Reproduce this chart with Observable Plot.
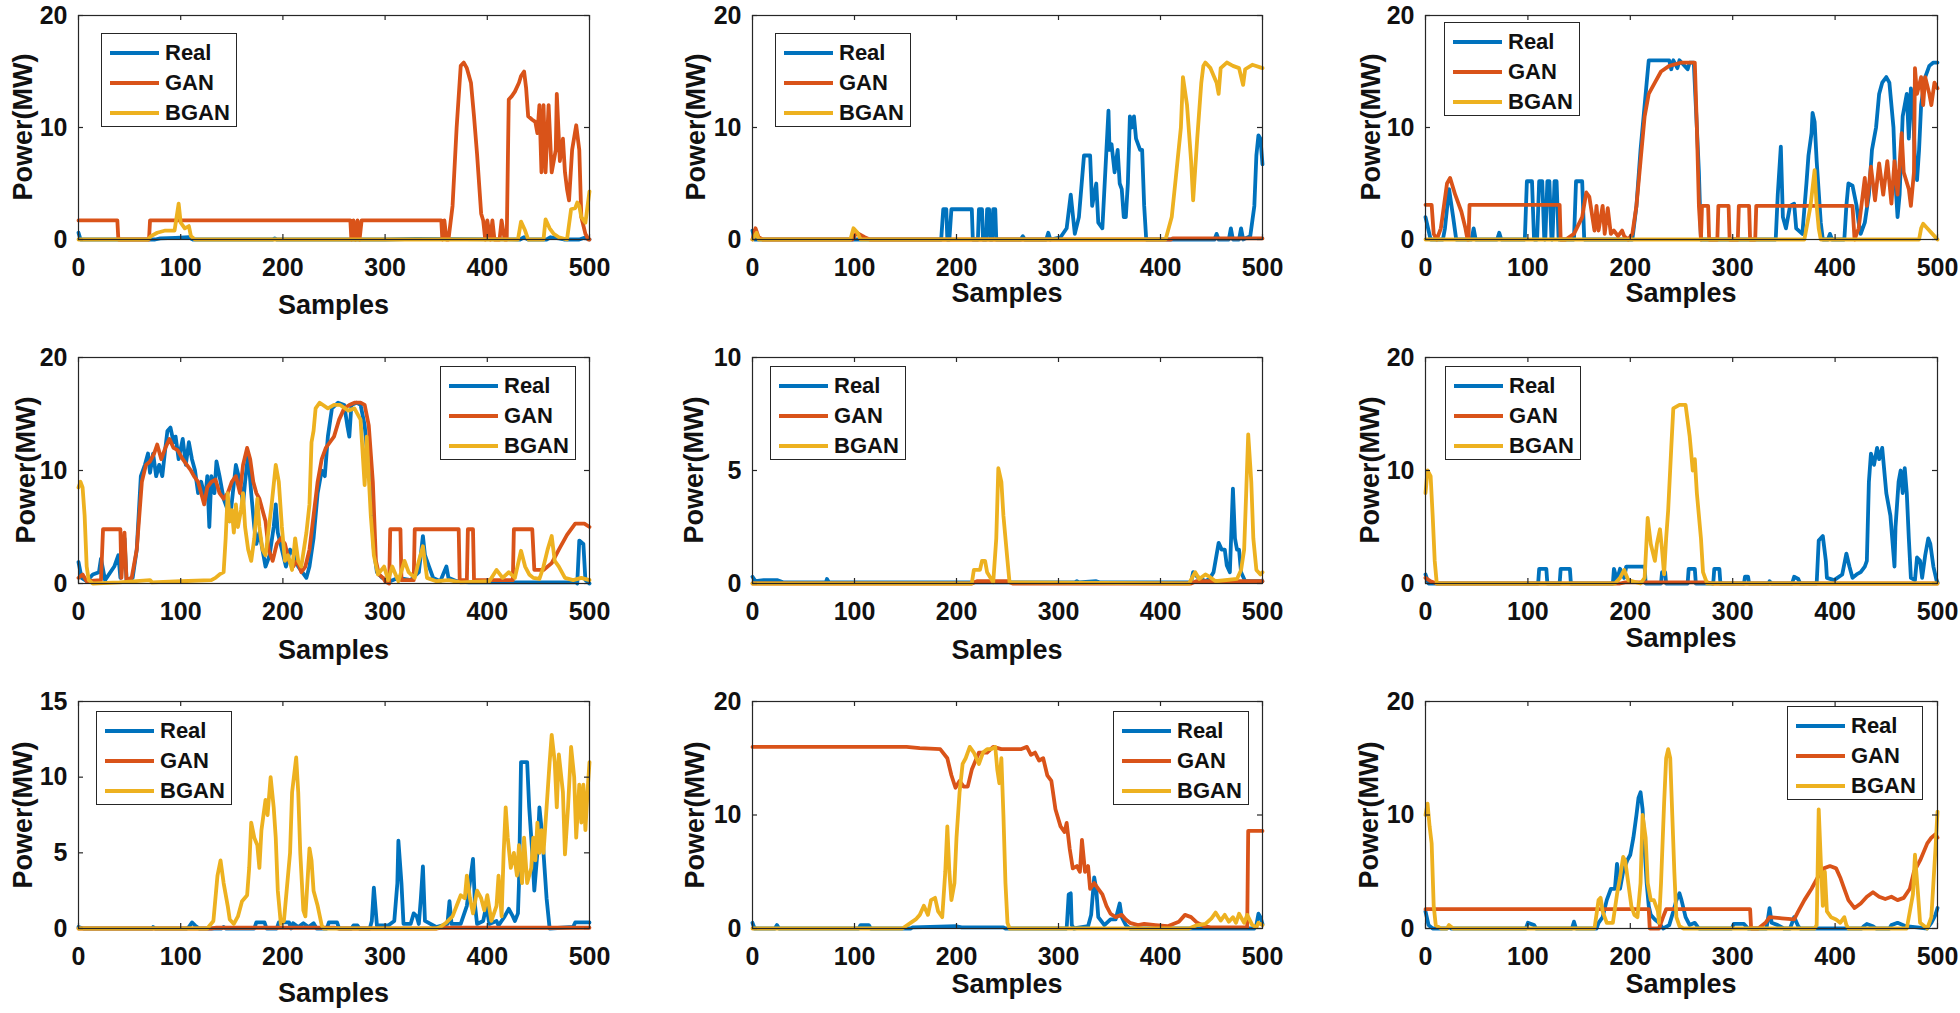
<!DOCTYPE html>
<html><head><meta charset="utf-8">
<script src="https://cdn.jsdelivr.net/npm/d3@7"></script>
<script src="https://cdn.jsdelivr.net/npm/@observablehq/plot@0.6"></script>
<style>
body{margin:0;background:#fff;}
#root{position:relative;width:1960px;height:1013px;overflow:hidden;font-family:"Liberation Sans",Arial,sans-serif;font-weight:bold;color:#111;background:#fff;}
.panel{position:absolute;}
.panel svg{overflow:visible;max-width:none;}
.lab{position:absolute;font-size:27px;font-weight:bold;white-space:nowrap;line-height:30px;}
.legend{position:absolute;border:1px solid #262626;background:#fff;box-sizing:border-box;width:136px;height:94px;}
.sw{position:absolute;left:8px;width:49px;height:4px;}
.lt{position:absolute;left:63px;font-size:22px;line-height:26px;font-weight:bold;}
</style></head>
<body><div id="root"></div>
<script>
// ---- series meta ----
const seriesNames = ["Real","GAN","BGAN"];
const seriesColors = ["#0072BD","#D95319","#EDB120"];
const xTicks = [0,100,200,300,400,500];
const yMaxes = [20,20,20,20,10,20,15,20,20];
const yTicksList = [[0,10,20],[0,10,20],[0,10,20],[0,10,20],[0,5,10],[0,10,20],[0,5,10,15],[0,10,20],[0,10,20]];
const xLabel = "Samples";
const yLabel = "Power(MW)";

// ---- panel 1 ----
const p1Real = [[0,0.6],[2,0],[75,0],[80,0.1],[95,0.15],[108,0.2],[112,0],[190,0],[192,0.1],[194,0],[300,0],[330,0.05],[432,0],[436,0.2],[440,0],[458,0],[462,0.2],[470,0.1],[475,0],[490,0],[495,0.15],[500,0]];
const p1Gan = [[0,1.7],[38,1.7],[39,0],[69,0],[70,1.7],[266,1.7],[267,0],[269,1.7],[271,0],[273,1.7],[275,0],[277,1.7],[355,1.7],[356,0],[358,1.7],[360,0],[362,0],[366,3],[370,10],[374,15.5],[377,15.8],[380,15.3],[384,14],[387,11],[390,7.6],[394,2.3],[396,1.7],[398,0],[400,1.7],[403,0],[405,1.7],[407,0],[412,0],[414,1.7],[417,0],[419,0],[421,12.5],[424,12.8],[427,13.2],[431,14],[433,14.6],[436,15],[438,13.5],[440,11],[444,10.7],[447,10.5],[449,9.5],[451,12],[453,6],[455,12],[457,6],[460,12],[463,6],[465,7],[467,8],[468,13],[471,7],[474,9],[476,6],[478,4.5],[480,3.5],[483,8],[487,10.2],[490,8],[492,2],[496,0.5],[499,0],[500,0]];
const p1Bgan = [[0,0],[68,0],[71,0.3],[77,0.6],[85,0.8],[94,0.8],[98,3.2],[100,1.5],[104,1.0],[108,1.2],[110,0.3],[114,0],[430,0],[433,1.6],[437,0.8],[440,0],[455,0],[457,1.8],[461,1.0],[465,0.5],[470,0.2],[478,0],[482,2.7],[486,2.8],[488,3.3],[490,3.0],[492,2.0],[496,1.5],[500,4.3]];

// ---- panel 2 ----
const p2Real = [[0,0.8],[2,0],[185,0],[187,2.7],[190,2.7],[191,0],[193,0],[195,2.7],[215,2.7],[216,0],[221,0],[222,2.7],[225,2.7],[226,0],[229,0],[230,2.7],[232,2.7],[233,0],[235,0],[236,2.7],[238,2.7],[239,0],[263,0],[265,0.3],[267,0],[288,0],[290,0.6],[292,0],[302,0.2],[308,1.0],[312,4.0],[316,0.5],[320,2],[325,7.5],[331,7.5],[333,3.0],[337,5],[339,1.5],[343,1.0],[347,8],[349,11.5],[350,8],[352,8.5],[355,6],[358,8],[360,5],[362,4.5],[364,2],[366,2],[368,5],[370,11],[372,10],[374,11],[376,9],[380,8],[382,8],[384,3],[386,0],[453,0],[455,0.5],[457,0],[467,0],[469,1.0],[471,0],[477,0],[479,1.0],[481,0],[488,0.3],[492,3],[494,7.5],[496,9.3],[498,9],[500,6.7]];
const p2Gan = [[0,0],[3,1.0],[6,0.2],[10,0],[98,0],[102,0.6],[110,0.2],[115,0],[410,0],[412,0.1],[500,0.1]];
const p2Bgan = [[0,0],[4,0.6],[6,0],[96,0],[99,1.0],[103,0.6],[106,0],[405,0],[411,2],[415,5.5],[420,10],[422,14.5],[426,12],[430,7],[432,3.5],[436,9],[440,14],[442,15.5],[444,15.8],[449,15.3],[455,14],[457,13],[459,15.3],[465,15.8],[471,15.5],[477,15.3],[481,13.8],[483,15.2],[490,15.6],[500,15.3]];

// ---- panel 3 ----
const p3Real = [[0,2],[5,0],[17,0],[19,1],[23,4.5],[27,2],[30,0],[45,0],[47,1.0],[49,0],[70,0],[72,0.6],[74,0],[97,0],[99,5.2],[104,5.2],[106,0],[109,0],[111,5.2],[114,5.2],[116,0],[117,0],[119,5.2],[121,5.2],[123,0],[124,0],[126,5.2],[128,5.2],[130,0],[145,0],[147,5.2],[153,5.2],[155,0],[202,0],[206,3],[210,8],[214,12],[216,14],[218,16],[238,16],[240,15.2],[242,16],[246,15.3],[248,16],[256,15.2],[258,15.8],[262,15.8],[265,10],[267,6],[269,0],[342,0],[344,4],[347,8.3],[349,2],[352,1],[356,3],[360,3.2],[362,1],[368,0.5],[372,5],[374,7.5],[377,9.5],[378,11.3],[380,10.5],[382,7],[386,1.5],[388,0],[393,0],[395,0.5],[397,0],[409,0],[411,3],[413,5],[417,4.8],[421,3],[423,1.5],[425,0.5],[429,1.5],[433,4],[436,8],[440,10],[443,13],[446,14],[450,14.5],[453,14],[457,10],[459,5],[461,2],[463,4],[466,11],[470,13],[472,9],[474,13.5],[476,12],[478,7],[480,5.3],[482,8],[484,12],[488,14.5],[492,15.5],[496,15.8],[500,15.8]];
const p3Gan = [[0,3.1],[6,3.1],[8,0.5],[11,0],[15,1],[21,5],[24,5.5],[29,4],[35,2.5],[39,1],[41,0],[42,0],[43,3.1],[131,3.1],[132,0],[137,0],[145,0.5],[153,2],[157,4.2],[160,3.8],[163,2],[165,0.8],[167,3],[169,0.8],[173,3],[175,0.5],[178,2.8],[181,0.5],[184,0.8],[188,0.3],[192,0.8],[194,0.3],[198,0],[202,0.5],[206,3],[210,7],[214,11],[218,13],[224,14],[230,15],[238,15.5],[250,15.8],[263,15.8],[265,10],[267,3],[269,0],[270,3],[276,3],[277,0],[285,0],[286,3],[296,3],[297,0],[305,0],[306,3],[316,3],[317,0],[322,0],[323,3],[417,3],[419,0],[423,1],[429,5.5],[431,3],[435,6.5],[439,3.5],[443,6.8],[447,4],[451,7],[455,3.2],[458,7],[461,4],[465,9.5],[467,6],[472,4.5],[474,3],[477,6],[478,15.3],[480,13],[484,14.5],[486,12],[488,14.5],[492,13],[494,12],[497,14],[500,13.5]];
const p3Bgan = [[0,0],[370,0],[372,1],[376,3],[380,6.2],[382,3],[384,1],[386,0],[482,0],[484,1],[486,1.4],[490,1.0],[495,0.5],[500,0]];

// ---- panel 4 ----
const p4Real = [[0,1.9],[3,0.5],[8,0.2],[14,0.8],[20,1.0],[22,2.2],[26,0.3],[35,1.5],[39,2.5],[41,0.5],[45,4],[47,0.3],[53,0.5],[57,3],[61,9.5],[65,10.5],[68,11.5],[70,9.8],[73,11.5],[76,9.5],[79,10.5],[82,9.5],[85,12],[87,13.5],[90,13.8],[93,12.5],[95,13],[98,11],[102,12.8],[105,10.5],[108,12.5],[111,11],[114,10],[117,8],[120,9],[124,7.5],[126,9.5],[128,5],[130,9.5],[133,8],[135,10.8],[138,9.5],[142,7.5],[146,6.5],[148,5.5],[151,8],[154,10.5],[158,9],[161,7],[163,9],[166,11.5],[169,8],[172,5],[174,3.5],[177,4.5],[180,3],[183,1.5],[187,2.5],[191,5],[193,7],[195,4.5],[199,3],[203,1.5],[207,3],[211,2.5],[215,1.5],[219,1],[223,0.5],[226,1.5],[230,4],[234,8],[238,10],[241,9.5],[244,13],[248,15.5],[254,16],[260,15.8],[263,14],[265,13],[267,15.8],[272,16],[276,15.8],[280,14],[285,9],[289,3],[292,1],[297,0.5],[305,0.2],[313,0.5],[325,0.3],[333,1],[337,4.2],[339,2.5],[343,1.5],[347,0.5],[354,0.2],[360,1.5],[362,0.5],[370,0.2],[382,0.1],[487,0.1],[488,0],[490,3.8],[494,3.5],[496,0.3],[500,0]];
const p4Gan = [[0,0.5],[4,0.8],[8,0.2],[22,0.3],[24,4.8],[41,4.8],[42,0.5],[45,4.5],[47,0.3],[52,0.5],[57,3],[62,9],[66,10.5],[70,10.8],[74,11.5],[77,12.3],[81,11],[85,12],[89,12.8],[93,12],[97,11.8],[102,11],[106,10.5],[110,10],[113,9.5],[117,9],[120,8],[123,7],[126,8.5],[130,9],[134,9.2],[138,8],[142,7.5],[146,8],[150,9],[154,9.5],[158,8],[161,10.5],[165,12],[168,11],[171,9],[174,8],[177,7.5],[180,6.5],[183,5.5],[186,3],[190,2],[194,3.5],[198,4],[202,3.5],[206,2],[210,1.5],[214,2],[218,1],[222,1.5],[226,3],[230,6],[234,9],[238,11],[242,12],[246,12.5],[250,13],[255,14.5],[260,15.5],[265,15.8],[270,16],[276,16],[280,15.8],[284,14],[288,9],[291,2],[294,0.8],[298,0.5],[300,0.2],[304,0],[305,4.8],[315,4.8],[316,0.3],[328,0.3],[329,4.8],[372,4.8],[373,0.3],[380,0.3],[381,4.8],[386,4.8],[387,0.3],[425,0.3],[426,4.8],[444,4.8],[446,1.2],[455,1.2],[463,1.8],[470,3],[478,4.3],[486,5.3],[495,5.3],[500,5]];
const p4Bgan = [[0,8.5],[2,9],[4,8.5],[6,6],[8,1.5],[10,0.3],[14,0],[40,0.1],[70,0.3],[72,0.1],[100,0.2],[130,0.3],[134,0.5],[138,0.8],[142,1.0],[144,4],[146,8],[148,5.5],[150,6.5],[152,4.5],[154,7],[156,5],[159,6.5],[161,8],[163,5],[166,3],[169,2],[172,4],[175,7.5],[177,5],[180,3],[183,2.5],[185,4],[189,7],[193,10.5],[196,9],[199,5],[202,2],[205,2.5],[209,1.2],[212,4],[215,2],[218,1.5],[223,4.5],[226,7],[228,12.5],[230,13.5],[232,15.5],[236,16],[244,15.5],[250,15.8],[256,15.8],[264,15.3],[270,15.5],[276,14.5],[280,8.7],[282,13],[286,6],[289,2.5],[293,0.8],[299,1.5],[303,0.3],[307,1.5],[313,0.2],[319,2],[323,1],[329,0.5],[333,2],[337,3.3],[341,0.5],[350,0.2],[362,0.3],[374,0.1],[402,0.2],[409,1.2],[415,0.5],[421,1.0],[427,0.5],[433,2.9],[437,1.5],[441,0.8],[445,0.5],[451,0.4],[455,1.5],[459,3],[463,4.2],[466,2],[470,1.5],[476,0.5],[484,0.3],[492,0.5],[500,0.3]];

// ---- panel 5 ----
const p5Real = [[0,0.3],[3,0.1],[11,0.15],[24,0.15],[30,0.05],[72,0.05],[73,0.2],[75,0.05],[316,0.05],[318,0.1],[320,0.05],[337,0.1],[340,0.05],[430,0.05],[432,0.5],[436,0.3],[444,0.1],[448,0.2],[452,0.5],[457,1.8],[460,1.5],[463,1.5],[465,0.8],[468,0.5],[471,4.2],[473,2],[475,1.5],[477,1.5],[479,0.5],[483,0.1],[500,0.1]];
const p5Gan = [[0,0],[215,0],[220,0.1],[250,0.1],[255,0],[430,0],[435,0.1],[500,0.1]];
const p5Bgan = [[0,0],[215,0],[217,0.6],[223,0.6],[225,1.0],[228,1.0],[230,0.5],[236,0.05],[239,2],[241,5.1],[244,4.5],[246,3],[250,1.0],[252,0.05],[428,0],[434,0.5],[438,0.2],[444,0.4],[448,0.3],[454,0.1],[475,0.2],[479,0.6],[482,1.5],[484,4],[486,6.6],[489,4.5],[491,2],[494,0.6],[498,0.4],[500,0.5]];

// ---- panel 6 ----
const p6Real = [[0,0.8],[3,0],[110,0],[111,1.3],[118,1.3],[119,0],[131,0],[132,1.3],[141,1.3],[142,0],[183,0],[184,1.3],[187,0.3],[190,1.3],[194,0.5],[196,1.5],[214,1.5],[215,0],[230,0],[231,1.0],[234,1.0],[235,0],[256,0],[257,1.3],[263,1.3],[264,0],[281,0],[282,1.3],[287,1.3],[288,0],[311,0],[312,0.6],[315,0.6],[316,0],[335,0],[336,0.2],[338,0],[358,0],[360,0.6],[364,0.4],[366,0],[382,0],[384,3.8],[388,4.2],[391,2],[392,0.5],[399,0.3],[407,0.8],[411,2.65],[414,1.5],[417,0.5],[421,0.8],[425,1.0],[429,1.5],[431,2.0],[433,9],[435,11.5],[438,10.5],[441,12],[443,11],[446,12],[448,10],[450,8],[454,6],[458,1.5],[459,5],[462,9],[464,10],[466,8],[468,10.2],[470,8],[472,4],[474,0.5],[478,0.3],[480,2.3],[483,2],[485,0.5],[488,2.5],[491,4],[493,3.5],[496,1.5],[499,0.3],[500,0.1]];
const p6Gan = [[0,0.5],[5,0.2],[11,0],[190,0],[195,0.1],[275,0.1],[280,0],[500,0]];
const p6Bgan = [[0,8],[2,10],[5,9.5],[7,6],[9,2],[11,0],[185,0],[190,0.5],[194,1.2],[198,0.3],[210,0],[214,0.5],[217,5.8],[220,3.5],[224,2],[226,3.5],[229,4.8],[231,3],[233,0.8],[235,4],[237,6.5],[240,12],[242,15.5],[248,15.8],[254,15.8],[258,13],[261,10],[263,11],[265,8],[269,4],[271,1],[275,0],[500,0]];

// ---- panel 7 ----
const p7Real = [[0,0.1],[5,0],[72,0],[73,0.1],[75,0],[106,0],[108,0.1],[111,0.4],[114,0.2],[118,0],[140,0],[142,0.1],[144,0],[172,0],[174,0.4],[182,0.4],[184,0],[194,0],[196,0.4],[206,0.4],[208,0],[210,0.35],[215,0.1],[220,0.35],[225,0.1],[230,0.35],[233,0],[243,0],[245,0.4],[253,0.4],[255,0],[267,0],[269,0.2],[273,0.2],[275,0],[285,0],[287,0.5],[289,2.7],[292,0.2],[303,0.2],[309,0.5],[312,3],[313,5.8],[316,3],[318,0.3],[325,0.3],[328,1.0],[331,0.8],[333,0.3],[335,2],[337,4.1],[339,0.5],[350,0.1],[361,0.3],[363,1.8],[365,0.3],[374,0.3],[380,1.5],[386,4.6],[388,1.5],[390,0.3],[396,0.5],[399,1.5],[402,0.3],[409,0.5],[411,0.2],[417,0.8],[421,1.3],[425,0.8],[427,0.5],[430,1],[431,3],[433,11],[439,11],[441,8],[444,5],[446,2.5],[449,5],[451,8],[454,6],[456,4],[458,2],[461,0],[484,0.1],[486,0.4],[500,0.4]];
const p7Gan = [[0,0],[130,0],[135,0.05],[250,0.05],[255,0],[350,0],[355,0.05],[500,0.05]];
const p7Bgan = [[0,0],[126,0],[132,0.5],[136,3.5],[139,4.5],[142,3],[146,1.5],[148,0.6],[152,0.3],[156,0.8],[160,1.8],[165,2.2],[167,4],[169,7],[172,6],[175,5.5],[177,4],[179,6.5],[183,8.5],[185,7.5],[188,10],[191,8],[193,6],[195,2.5],[198,0.3],[201,0.5],[203,2],[207,5],[209,9],[213,11.3],[215,9],[217,5],[220,1.2],[222,0.8],[226,5.3],[228,4.5],[230,2.5],[234,1.5],[238,0.2],[240,0],[350,0],[354,0.1],[360,0.4],[366,0.8],[370,1.5],[374,2.2],[378,2],[380,3.5],[383,2],[386,1],[390,2.5],[394,2],[397,1.2],[400,2.2],[404,0.5],[409,1.5],[411,3.5],[414,0.8],[416,5],[418,8],[420,6],[423,4],[426,5],[429,3.5],[431,5.5],[434,3],[436,6],[439,3],[443,4],[445,6],[447,4.5],[449,7],[451,5],[453,6.5],[455,5],[458,8],[459,9],[461,11],[463,12.8],[466,11],[468,8],[470,11.5],[474,9],[476,4.9],[479,8],[482,12],[485,10],[487,6],[490,9.5],[492,7],[494,9.5],[496,6.5],[498,9],[500,11]];

// ---- panel 8 ----
const p8Real = [[0,0.5],[2,0],[22,0],[24,0.3],[26,0],[104,0],[106,0.3],[114,0.3],[116,0],[155,0],[157,0.1],[200,0.2],[205,0.1],[246,0.1],[248,0],[308,0],[310,3],[312,3.1],[313,0.3],[315,0],[329,0.2],[332,1.2],[335,4.5],[337,3.5],[339,1],[345,0.3],[351,0.8],[356,0.8],[360,2.2],[362,1],[366,0.3],[370,0],[492,0],[494,0.3],[496,1.3],[498,1.0],[500,0.4]];
const p8Gan = [[0,16],[151,16],[164,15.9],[184,15.8],[191,15],[195,13.5],[199,12.4],[203,13],[207,12.5],[211,12.5],[215,14],[222,15.5],[230,15.5],[236,16],[244,15.8],[263,15.8],[269,16],[273,15.3],[277,15.5],[281,14.8],[285,15],[289,13.5],[293,13],[297,10.5],[302,9],[306,8.5],[308,9.3],[311,7],[314,5.3],[318,5.5],[321,5],[323,7.8],[326,5],[329,5.5],[331,3.5],[335,4],[339,3.5],[343,3],[347,2],[351,1.3],[356,1.0],[362,1.2],[366,0.8],[370,0.5],[378,0.3],[384,0.4],[395,0.3],[407,0.2],[418,0.6],[424,1.2],[430,1.0],[436,0.5],[443,0.2],[449,0.1],[485,0.1],[486,8.6],[500,8.6]];
const p8Bgan = [[0,0],[147,0],[155,0.5],[160,0.8],[164,1.2],[168,2],[172,1.2],[175,2.5],[179,2.7],[182,1.5],[186,1.0],[189,5],[191,9],[193,5],[195,2.5],[198,4],[200,8],[203,12],[206,14.5],[209,15],[213,16],[217,15.5],[222,14.5],[226,15.5],[230,15.8],[234,15.8],[238,16],[240,14],[242,12.8],[244,15],[246,10],[248,4],[250,0.5],[252,0],[428,0],[436,0.3],[444,0.4],[450,0.9],[454,1.4],[459,0.7],[463,1.2],[467,0.6],[471,1.0],[474,0.5],[477,1.3],[482,0.5],[485,1.2],[490,0.3],[494,0.1],[496,0.5],[500,0.3]];

// ---- panel 9 ----
const p9Real = [[0,1.5],[3,0.3],[7,0],[21,0],[23,0.2],[25,0],[98,0],[100,0.5],[106,0.3],[108,0],[143,0],[145,0.6],[147,0],[167,0],[169,0.5],[173,1.0],[177,2.5],[181,3.5],[185,3.5],[187,5.7],[190,3.5],[193,5],[197,6],[200,6.5],[203,8],[206,10],[208,11.5],[210,12],[212,10.5],[214,7],[216,4],[218,2],[220,1.2],[224,0.8],[228,0.5],[232,0],[238,0.3],[242,1.5],[245,2.5],[248,3.1],[250,2.5],[254,1.0],[258,0.3],[263,0.5],[267,0],[299,0],[301,0.4],[311,0.4],[315,0],[333,0],[336,1.8],[338,0.5],[344,0.3],[350,0],[356,0],[358,0.5],[360,1.0],[364,0.2],[366,0],[426,0],[428,0.2],[431,0.4],[437,0.2],[440,0],[453,0],[455,0.3],[461,0.5],[469,0.2],[480,0.1],[490,0],[494,0.5],[498,1.2],[500,1.8]];
const p9Gan = [[0,1.7],[218,1.7],[219,0],[228,0],[232,1.0],[235,1.7],[317,1.7],[318,0],[325,0],[332,0.5],[336,1.0],[348,0.9],[360,0.8],[364,1.5],[370,2.5],[377,3.5],[383,4.5],[389,5.3],[395,5.5],[401,5.3],[405,4.5],[409,3.5],[413,2.5],[419,1.8],[425,2.2],[431,2.8],[437,3.2],[443,2.8],[449,2.6],[455,2.8],[461,2.5],[467,2.7],[473,3.5],[477,5],[483,6],[490,7.5],[494,8],[498,8.3],[500,8]];
const p9Bgan = [[0,10],[2,11],[4,9],[6,7.5],[8,2],[10,0.3],[15,0],[21,0],[23,0.3],[27,0],[165,0],[169,2.5],[171,2.7],[173,1.5],[177,0.5],[183,0.5],[187,3],[190,4.5],[193,6.3],[195,6],[198,4],[201,2],[204,1.2],[207,1.0],[210,4],[212,10],[215,8],[217,4],[220,2.5],[223,2.5],[227,1.5],[228,0.5],[230,4],[233,11],[235,15],[237,15.8],[239,15],[241,10],[243,5],[245,1.0],[248,0.2],[252,0],[380,0],[382,0.3],[384,10.5],[386,6],[388,2],[390,5],[392,1.5],[396,1.0],[401,0.8],[405,0.5],[409,1.0],[411,0.3],[413,0],[470,0],[473,1.5],[476,3],[478,6.5],[481,3],[483,0.5],[490,0],[494,1],[496,4],[498,7],[500,10.3]];

const panelSeries = [
  [p1Real,p1Gan,p1Bgan],[p2Real,p2Gan,p2Bgan],[p3Real,p3Gan,p3Bgan],
  [p4Real,p4Gan,p4Bgan],[p5Real,p5Gan,p5Bgan],[p6Real,p6Gan,p6Bgan],
  [p7Real,p7Gan,p7Bgan],[p8Real,p8Gan,p8Bgan],[p9Real,p9Gan,p9Bgan]
];

// ---- layout (pixels) ----
const colFrames = [[78,589],[752,1262],[1425,1937]];
const rowFrames = [[15,239],[357,583],[701,928]];
const samplesOffset = [66,54,54,67,67,55,65,56,56];
const powerOffset = [-55,-56,-54,-52,-58,-55,-55,-57,-56];
const legendPos = [[101,33],[775,33],[1444,22],[440,366],[770,366],[1445,366],[96,711],[1113,711],[1787,706]];

const root = document.getElementById("root");
const mL = 80, mR = 10, mT = 10, mB = 50;
const FONT = '"Liberation Sans", Arial, sans-serif';

panelSeries.forEach((series, i) => {
  const c = colFrames[i % 3], r = rowFrames[Math.floor(i / 3)];
  const fw = c[1] - c[0], fh = r[1] - r[0];
  const ymax = yMaxes[i], yt = yTicksList[i];
  const tkY = ymax * 5 / fh, tkX = 500 * 5 / fw;
  const lines = series.map((data, k) => Plot.line(data, {
    x: d => d[0], y: d => d[1], stroke: seriesColors[k], strokeWidth: 3.8,
    strokeLinejoin: "round", strokeLinecap: "round"
  }));
  const chart = Plot.plot({
    width: fw + mL + mR, height: fh + mT + mB,
    marginLeft: mL, marginRight: mR, marginTop: mT, marginBottom: mB,
    x: {domain: [0, 500]}, y: {domain: [0, ymax]},
    style: {fontFamily: FONT, fontSize: "25px", fontWeight: "bold", color: "#111", background: "transparent", overflow: "visible"},
    marks: [
      ...lines,
      Plot.frame({stroke: "#262626", strokeWidth: 1.2}),
      Plot.ruleX(xTicks, {x: d => d, y1: 0, y2: tkY, stroke: "#262626", strokeWidth: 1.2}),
      Plot.ruleX(xTicks, {x: d => d, y1: ymax, y2: ymax - tkY, stroke: "#262626", strokeWidth: 1.2}),
      Plot.ruleY(yt, {y: d => d, x1: 0, x2: tkX, stroke: "#262626", strokeWidth: 1.2}),
      Plot.ruleY(yt, {y: d => d, x1: 500, x2: 500 - tkX, stroke: "#262626", strokeWidth: 1.2}),
      Plot.axisX(xTicks, {tickSize: 0, tickPadding: 19, label: null, fill: "#111"}),
      Plot.axisY(yt, {tickSize: 0, tickPadding: 11, label: null, fill: "#111"})
    ]
  });
  const wrap = document.createElement("div");
  wrap.className = "panel";
  wrap.style.left = (c[0] - mL) + "px";
  wrap.style.top = (r[0] - mT) + "px";
  wrap.appendChild(chart);
  root.appendChild(wrap);

  // axis titles
  const xl = document.createElement("div");
  xl.className = "lab"; xl.textContent = xLabel;
  xl.style.left = ((c[0] + c[1]) / 2) + "px";
  xl.style.top = (r[1] + samplesOffset[i]) + "px";
  xl.style.transform = "translate(-50%,-50%)";
  root.appendChild(xl);
  const yl = document.createElement("div");
  yl.className = "lab"; yl.textContent = yLabel;
  yl.style.left = (c[0] + powerOffset[i]) + "px";
  yl.style.top = ((r[0] + r[1]) / 2) + "px";
  yl.style.transform = "translate(-50%,-50%) rotate(-90deg)";
  root.appendChild(yl);

  // legend
  const lg = document.createElement("div");
  lg.className = "legend";
  lg.style.left = legendPos[i][0] + "px";
  lg.style.top = legendPos[i][1] + "px";
  const rowCenters = [19, 49, 79];
  seriesNames.forEach((name, k) => {
    const sw = document.createElement("div");
    sw.className = "sw";
    sw.style.top = (rowCenters[k] - 2) + "px";
    sw.style.background = seriesColors[k];
    lg.appendChild(sw);
    const t = document.createElement("div");
    t.className = "lt"; t.textContent = name;
    t.style.top = (rowCenters[k] - 13) + "px";
    lg.appendChild(t);
  });
  root.appendChild(lg);
});
</script></body></html>
